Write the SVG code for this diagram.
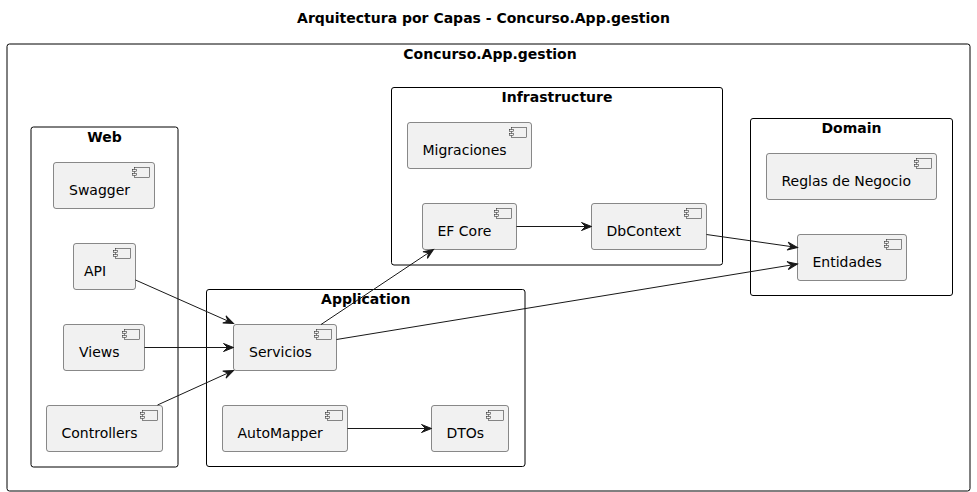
<svg xmlns="http://www.w3.org/2000/svg" xmlns:xlink="http://www.w3.org/1999/xlink" width="977" height="492" viewBox="0 0 977 492">
<style>
text{font-family:"DejaVu Sans","Liberation Sans",sans-serif;fill:#000}
.title{font-size:14px;font-weight:bold;text-anchor:middle}
.pkg{fill:none;stroke:#000;stroke-width:1}
.comp{fill:#F1F1F1;stroke:#181818;stroke-width:0.5}
.lbl{font-size:14px}
.edge{fill:none;stroke:#181818;stroke-width:1;marker-end:url(#arr)}
</style>
<defs>
<marker id="arr" markerUnits="userSpaceOnUse" markerWidth="12" markerHeight="10" refX="10" refY="4" orient="auto" overflow="visible">
<path d="M0,0 L10,4 L0,8 L4,4 Z" fill="#181818" stroke="#181818" stroke-width="1"/>
</marker>
<g id="icon">
<rect x="-20" y="5" width="15" height="10" fill="#F1F1F1" stroke="#181818" stroke-width="0.5"/>
<rect x="-22" y="7" width="4" height="2" fill="#F1F1F1" stroke="#181818" stroke-width="0.5"/>
<rect x="-22" y="11" width="4" height="2" fill="#F1F1F1" stroke="#181818" stroke-width="0.5"/>
</g>
</defs>
<rect width="977" height="492" fill="#fff"/>
<text class="title" x="483.5" y="22.5">Arquitectura por Capas - Concurso.App.gestion</text>

<g id="pkg-root">
<rect class="pkg" x="7" y="44" width="963" height="447" rx="2.5"/>
<text class="title" x="490" y="58.5">Concurso.App.gestion</text>
</g>
<g id="pkg-web">
<rect class="pkg" x="31" y="127" width="147" height="340" rx="2.5"/>
<text class="title" x="104.5" y="141.5">Web</text>
</g>
<g id="pkg-application">
<rect class="pkg" x="206.5" y="289.5" width="318.5" height="177" rx="2.5"/>
<text class="title" x="365.75" y="303.5">Application</text>
</g>
<g id="pkg-infrastructure">
<rect class="pkg" x="391.5" y="87.5" width="331" height="177.5" rx="2.5"/>
<text class="title" x="557" y="101.5">Infrastructure</text>
</g>
<g id="pkg-domain">
<rect class="pkg" x="750.5" y="118.5" width="202" height="177" rx="2.5"/>
<text class="title" x="851.5" y="132.5">Domain</text>
</g>

<g id="swagger">
<rect class="comp" x="53.5" y="162.5" width="101" height="46" rx="2.5"/>
<use xlink:href="#icon" transform="translate(154.5,162.5)"/>
<text class="lbl" x="69" y="195">Swagger</text>
</g>
<g id="api">
<rect class="comp" x="73.5" y="243.5" width="62" height="46" rx="2.5"/>
<use xlink:href="#icon" transform="translate(135.5,243.5)"/>
<text class="lbl" x="84" y="276">API</text>
</g>
<g id="views">
<rect class="comp" x="63.5" y="324.5" width="81" height="46" rx="2.5"/>
<use xlink:href="#icon" transform="translate(144.5,324.5)"/>
<text class="lbl" x="79" y="357">Views</text>
</g>
<g id="controllers">
<rect class="comp" x="46.5" y="405.5" width="116" height="46" rx="2.5"/>
<use xlink:href="#icon" transform="translate(162.5,405.5)"/>
<text class="lbl" x="61.5" y="438">Controllers</text>
</g>
<g id="servicios">
<rect class="comp" x="233.5" y="324.5" width="103" height="46" rx="2.5"/>
<use xlink:href="#icon" transform="translate(336.5,324.5)"/>
<text class="lbl" x="249" y="357">Servicios</text>
</g>
<g id="automapper">
<rect class="comp" x="222.5" y="405.5" width="125" height="46" rx="2.5"/>
<use xlink:href="#icon" transform="translate(347.5,405.5)"/>
<text class="lbl" x="237.5" y="438">AutoMapper</text>
</g>
<g id="dtos">
<rect class="comp" x="431.5" y="405.5" width="77" height="46" rx="2.5"/>
<use xlink:href="#icon" transform="translate(508.5,405.5)"/>
<text class="lbl" x="446.5" y="438">DTOs</text>
</g>
<g id="migraciones">
<rect class="comp" x="407.5" y="122.5" width="124" height="46" rx="2.5"/>
<use xlink:href="#icon" transform="translate(531.5,122.5)"/>
<text class="lbl" x="422.5" y="155">Migraciones</text>
</g>
<g id="efcore">
<rect class="comp" x="422.5" y="203.5" width="94" height="46" rx="2.5"/>
<use xlink:href="#icon" transform="translate(516.5,203.5)"/>
<text class="lbl" x="437.5" y="236">EF Core</text>
</g>
<g id="dbcontext">
<rect class="comp" x="591.5" y="203.5" width="115" height="46" rx="2.5"/>
<use xlink:href="#icon" transform="translate(706.5,203.5)"/>
<text class="lbl" x="606.5" y="236">DbContext</text>
</g>
<g id="reglas">
<rect class="comp" x="766.5" y="153.5" width="170" height="46" rx="2.5"/>
<use xlink:href="#icon" transform="translate(936.5,153.5)"/>
<text class="lbl" x="781.5" y="186">Reglas de Negocio</text>
</g>
<g id="entidades">
<rect class="comp" x="797.5" y="234.5" width="109" height="46" rx="2.5"/>
<use xlink:href="#icon" transform="translate(906.5,234.5)"/>
<text class="lbl" x="812.5" y="267">Entidades</text>
</g>

<g id="connectors">
<path class="edge" d="M135.5,280 L233.5,323.5"/>
<path class="edge" d="M144.5,347.5 L233.5,347.5"/>
<path class="edge" d="M157.5,405 L233.5,370.5"/>
<path class="edge" d="M321,324.5 L433.5,249.5"/>
<path class="edge" d="M336.5,339.5 L797.5,264"/>
<path class="edge" d="M706.5,234.5 L797.5,247.5"/>
<path class="edge" d="M516.5,226.5 L591.5,226.5"/>
<path class="edge" d="M347.5,428.5 L431.5,428.5"/>
</g>
</svg>
